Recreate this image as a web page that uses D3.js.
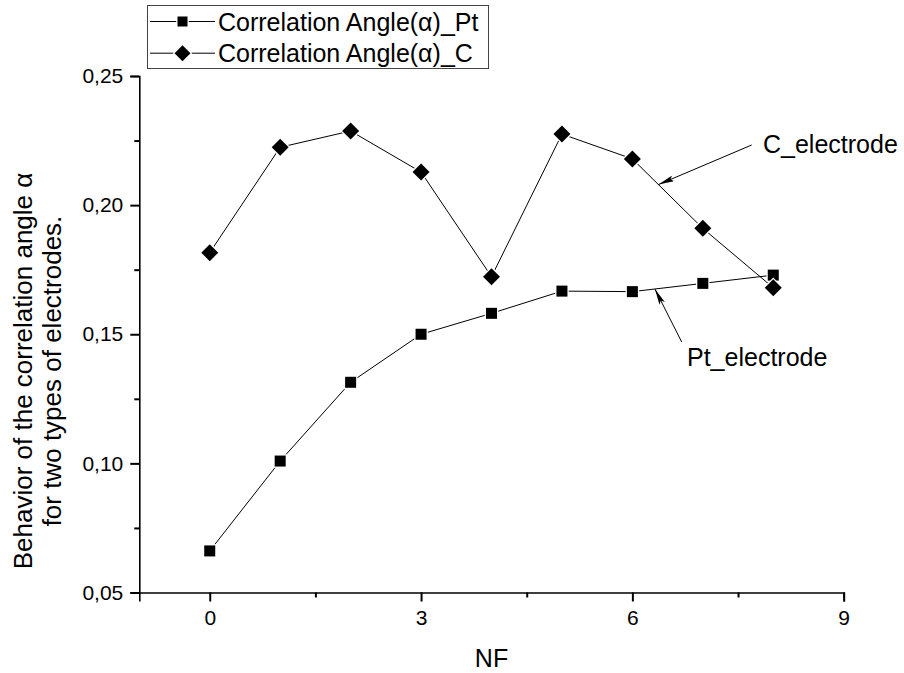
<!DOCTYPE html>
<html>
<head>
<meta charset="utf-8">
<script src="https://cdn.jsdelivr.net/npm/d3@7"></script>
<style>
  html, body { margin: 0; padding: 0; background: #fff; }
  svg { display: block; font-family: "Liberation Sans", Arial, sans-serif; }
</style>
</head>
<body>
<svg id="chart" width="904" height="673"></svg>
<script>
// ---- data ----
const nf = [0, 1, 2, 3, 4, 5, 6, 7, 8];
const ptValues = [0.0661, 0.1009, 0.1314, 0.1500, 0.1581, 0.1667, 0.1665, 0.1697, 0.1729];
const cValues  = [0.1816, 0.2224, 0.2287, 0.2128, 0.1723, 0.2275, 0.2179, 0.1910, 0.1680];
const xTicks = [0, 3, 6, 9];
const xMinorTicks = [1.5, 4.5, 7.5];
const yTicks = [0.05, 0.10, 0.15, 0.20, 0.25];
const yMinorTicks = [0.075, 0.125, 0.175, 0.225];
const seriesNames = ["Correlation Angle(\u03b1)_Pt", "Correlation Angle(\u03b1)_C"];
const xTitle = "NF";
const yTitleLines = ["Behavior of the correlation angle \u03b1", "for two types of electrodes."];
const annotations = [
  { text: "C_electrode", series: "C", x: 6.37 },
  { text: "Pt_electrode", series: "Pt", x: 6.32 }
];

// ---- layout ----
const svg = d3.select("#chart");
const x = d3.scaleLinear().domain([-1, 9]).range([139.3, 843.7]);
const y = d3.scaleLinear().domain([0.05, 0.25]).range([592.5, 76]);
const fmt = d => d3.format(".2f")(d).replace(".", ",");

// axes
const xAxisG = svg.append("g").attr("transform", `translate(0,${y(0.05)})`);
xAxisG.call(d3.axisBottom(x).tickValues(xTicks).tickSize(9).tickPadding(9).tickFormat(d3.format("d")));
const xMinorG = svg.append("g").attr("transform", `translate(0,${y(0.05)})`);
xMinorG.call(d3.axisBottom(x).tickValues(xMinorTicks).tickSize(5).tickFormat(""));
xMinorG.select(".domain").remove();

const yAxisG = svg.append("g").attr("transform", `translate(${x(-1)},0)`);
yAxisG.call(d3.axisLeft(y).tickValues(yTicks).tickSize(9).tickPadding(7).tickFormat(fmt));
const yMinorG = svg.append("g").attr("transform", `translate(${x(-1)},0)`);
yMinorG.call(d3.axisLeft(y).tickValues(yMinorTicks).tickSize(5).tickFormat(""));
yMinorG.select(".domain").remove();

svg.selectAll(".domain").attr("stroke", "#000").attr("stroke-width", 1.6);
svg.selectAll(".tick line").attr("stroke", "#000").attr("stroke-width", 2);
svg.selectAll(".tick text").attr("fill", "#000").attr("font-size", 21)
   .attr("font-family", "Liberation Sans, Arial, sans-serif");

// axis titles
svg.append("text").attr("x", x(4)).attr("y", 667).attr("text-anchor", "middle")
  .attr("font-size", 25).text(xTitle);
const yTitleCenter = 371;
yTitleLines.forEach((t, i) => {
  svg.append("text")
    .attr("transform", `translate(${32 + i * 29},${yTitleCenter}) rotate(-90)`)
    .attr("text-anchor", "middle").attr("font-size", 26).text(t);
});

// series
const line = d3.line().x((d, i) => x(nf[i])).y(d => y(d));
function square(g, cx, cy, s) {
  g.append("rect").attr("x", cx - s / 2).attr("y", cy - s / 2).attr("width", s).attr("height", s)
    .attr("fill", "#000").attr("stroke", "#fff").attr("stroke-width", 2.5).attr("paint-order", "stroke");
}
function diamond(g, cx, cy, r) {
  g.append("path").attr("d", `M${cx},${cy - r}L${cx + r},${cy}L${cx},${cy + r}L${cx - r},${cy}Z`)
    .attr("fill", "#000").attr("stroke", "#fff").attr("stroke-width", 2.5).attr("paint-order", "stroke");
}

const gPt = svg.append("g");
gPt.append("path").datum(ptValues).attr("d", line).attr("fill", "none").attr("stroke", "#000").attr("stroke-width", 1);
const gC = svg.append("g");
gC.append("path").datum(cValues).attr("d", line).attr("fill", "none").attr("stroke", "#000").attr("stroke-width", 1);
ptValues.forEach((v, i) => square(gPt, x(nf[i]), y(v), 11));
cValues.forEach((v, i) => diamond(gC, x(nf[i]), y(v), 8.5));

// annotations with arrows
const defs = svg.append("defs");
defs.append("marker").attr("id", "arrow").attr("viewBox", "0 0 16 6").attr("refX", 16).attr("refY", 3)
  .attr("markerWidth", 16).attr("markerHeight", 6).attr("markerUnits", "userSpaceOnUse").attr("orient", "auto")
  .append("path").attr("d", "M0,0L16,3L0,6L3,3Z").attr("fill", "#000");

function interp(vals, xv) {
  const i0 = Math.floor(xv), t = xv - i0;
  return vals[i0] + (vals[i0 + 1] - vals[i0]) * t;
}
// C_electrode
{
  const a = annotations[0];
  const tx = x(a.x), ty = y(interp(cValues, a.x));
  svg.append("line").attr("x1", 751.7).attr("y1", 145).attr("x2", tx).attr("y2", ty)
    .attr("stroke", "#000").attr("stroke-width", 1).attr("marker-end", "url(#arrow)");
  svg.append("text").attr("x", 763).attr("y", 153).attr("font-size", 25).text(a.text);
}
// Pt_electrode
{
  const a = annotations[1];
  const tx = x(a.x), ty = y(interp(ptValues, a.x));
  svg.append("line").attr("x1", 681.7).attr("y1", 342).attr("x2", tx).attr("y2", ty)
    .attr("stroke", "#000").attr("stroke-width", 1).attr("marker-end", "url(#arrow)");
  svg.append("text").attr("x", 687).attr("y", 366).attr("font-size", 25).text(a.text);
}

// legend
const lg = svg.append("g");
lg.append("rect").attr("x", 147.5).attr("y", 5.5).attr("width", 341).attr("height", 63)
  .attr("fill", "#fff").attr("stroke", "#444").attr("stroke-width", 1);
[0, 1].forEach(i => {
  const cy = 21.5 + i * 31.7;
  lg.append("line").attr("x1", 150).attr("x2", 215).attr("y1", cy).attr("y2", cy)
    .attr("stroke", "#000").attr("stroke-width", 1);
  if (i === 0) square(lg, 182.5, cy, 10);
  else diamond(lg, 182.5, cy, 8);
  lg.append("text").attr("x", 218).attr("y", cy + 9).attr("font-size", 25).text(seriesNames[i]);
});
</script>
</body>
</html>
